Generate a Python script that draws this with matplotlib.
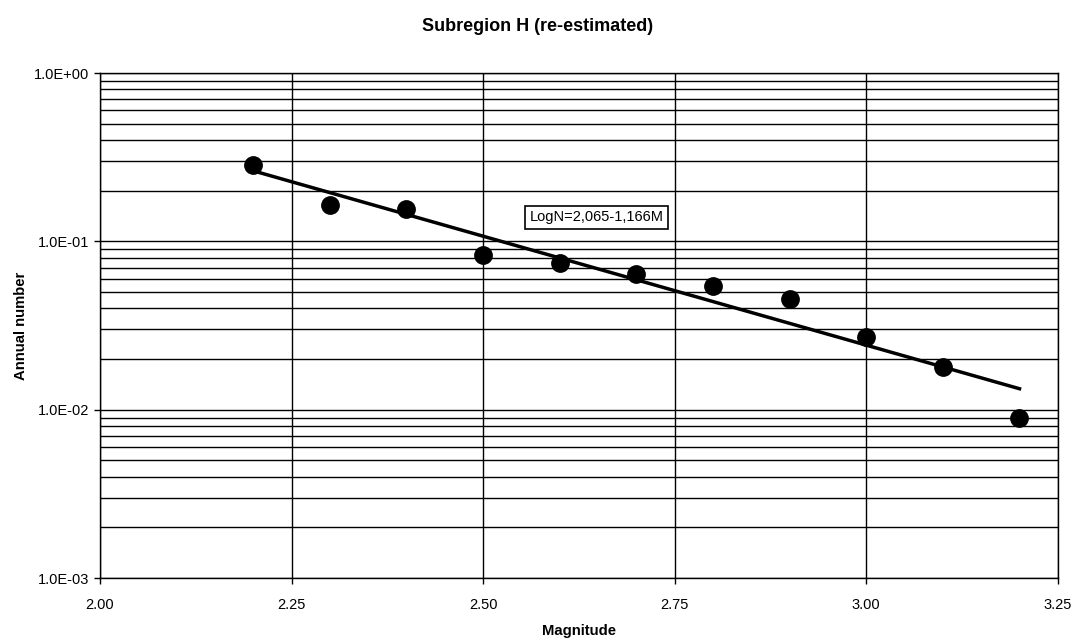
import matplotlib
matplotlib.use("Agg")
import matplotlib.pyplot as plt
import numpy as np
from matplotlib.ticker import FixedLocator, FuncFormatter, LogLocator, NullFormatter

plt.rcParams["font.family"] = ["Liberation Sans", "DejaVu Sans"]

magnitude = [2.2, 2.3, 2.4, 2.5, 2.6, 2.7, 2.8, 2.9, 3.0, 3.1, 3.2]
annual_number = [0.283, 0.164, 0.155, 0.0826, 0.074, 0.0645, 0.0547, 0.0458, 0.0272, 0.018, 0.0090]
fit_label = "LogN=2,065-1,166M"
x_ticks = [2.00, 2.25, 2.50, 2.75, 3.00, 3.25]


def _sci_label(v, _pos):
    exp = int(np.round(np.log10(v)))
    sign = "+" if exp >= 0 else "-"
    return f"1.0E{sign}{abs(exp):02d}"


fig = plt.figure(figsize=(10.75, 6.41), dpi=100)
ax = fig.add_axes([0.093, 0.098, 0.891, 0.788])

# least-squares line in log space
slope, intercept = np.polyfit(magnitude, np.log10(annual_number), 1)
xf = np.array([magnitude[0], magnitude[-1]])
ax.plot(xf, 10 ** (intercept + slope * xf), color="black", lw=2.5, zorder=3)
ax.plot(magnitude, annual_number, "o", color="black", ms=12.5, zorder=4)

ax.set_yscale("log")
ax.set_xlim(2.0, 3.25)
ax.set_ylim(1e-3, 1.0)
ax.xaxis.set_major_locator(FixedLocator(x_ticks))
ax.xaxis.set_major_formatter(FuncFormatter(lambda v, _p: f"{v:.2f}"))
ax.yaxis.set_major_locator(LogLocator(base=10, numticks=10))
ax.yaxis.set_minor_locator(LogLocator(base=10, subs=np.arange(2, 10), numticks=10))
ax.yaxis.set_major_formatter(FuncFormatter(_sci_label))
ax.yaxis.set_minor_formatter(NullFormatter())

ax.grid(which="major", axis="both", color="black", lw=1.0)
ax.grid(which="minor", axis="y", color="black", lw=1.0)
ax.tick_params(axis="y", which="minor", length=0)
ax.tick_params(axis="both", which="major", length=4, width=1, labelsize=10.5, direction="out")
ax.tick_params(axis="x", which="major", pad=10)
ax.tick_params(axis="y", which="major", pad=4)
for sp in ax.spines.values():
    sp.set_color("black")
    sp.set_linewidth(1.0)

ax.text(2.648, 0.139, fit_label, fontsize=10.5, ha="center", va="center",
        bbox=dict(boxstyle="square,pad=0.3", fc="white", ec="black", lw=1.2), zorder=5)

ax.set_xlabel("Magnitude", fontsize=10.7, fontweight="bold", labelpad=9)
ax.set_ylabel("Annual number", fontsize=10.7, fontweight="bold", labelpad=4)
fig.suptitle("Subregion H (re-estimated)", fontsize=13, fontweight="bold", y=0.972)

fig.savefig("out.png", dpi=100, facecolor="white")
